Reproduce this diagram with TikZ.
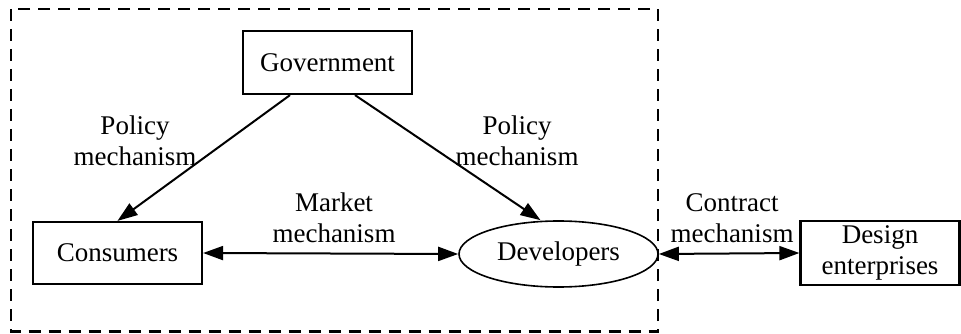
\documentclass[tikz,border=0pt]{standalone}
\usepackage{fontspec}
\setmainfont{Liberation Serif}
\usetikzlibrary{arrows.meta,shapes.geometric}
\begin{document}
\begin{tikzpicture}[x=1pt,y=-1pt,
  every node/.style={font=\fontsize{27}{31}\selectfont},
  actor/.style={draw,line width=2.2pt,rectangle,inner sep=0pt},
  market/.style={draw,line width=1.6pt,ellipse,inner sep=0pt},
  label/.style={align=center,inner sep=0pt},
  flow/.style={line width=2pt,-{Triangle[length=20pt,width=14pt]}},
  twoway/.style={line width=2pt,{Triangle[length=20pt,width=14pt]}-{Triangle[length=20pt,width=14pt]}},
  frame/.style={draw,line width=2.6pt,dash pattern=on 12pt off 8pt}]
\useasboundingbox (0,0) rectangle (961,334);

% system boundary
\draw[frame] (11,9) rectangle (658,331.5);

% actors
\node[actor,minimum width=169pt,minimum height=63pt] (gov) at (327.5,62.5) {Government};
\node[actor,minimum width=169pt,minimum height=62pt] (cons) at (117.5,253) {Consumers};
\node[market,minimum width=199pt,minimum height=66pt] (dev) at (558.5,254) {Developers};
\node[actor,minimum width=159pt,minimum height=64pt,align=center] (des) at (880,253) {Design\\enterprises};

% mechanisms
\draw[flow] ([xshift=-37.5pt]gov.south) -- (cons.north);
\draw[flow] ([xshift=27.5pt]gov.south) -- ([xshift=-18pt]dev.north);
\draw[twoway] (cons.east) -- (dev.west);
\draw[twoway] (dev.east) -- (des.west);

% mechanism labels
\node[label] (lpl) at (135,141) {Policy\\mechanism};
\node[label] (lpr) at (517,141) {Policy\\mechanism};
\node[label] (lm) at (334,218) {Market\\mechanism};
\node[label] (lc) at (732,218) {Contract\\mechanism};
\end{tikzpicture}
\end{document}
